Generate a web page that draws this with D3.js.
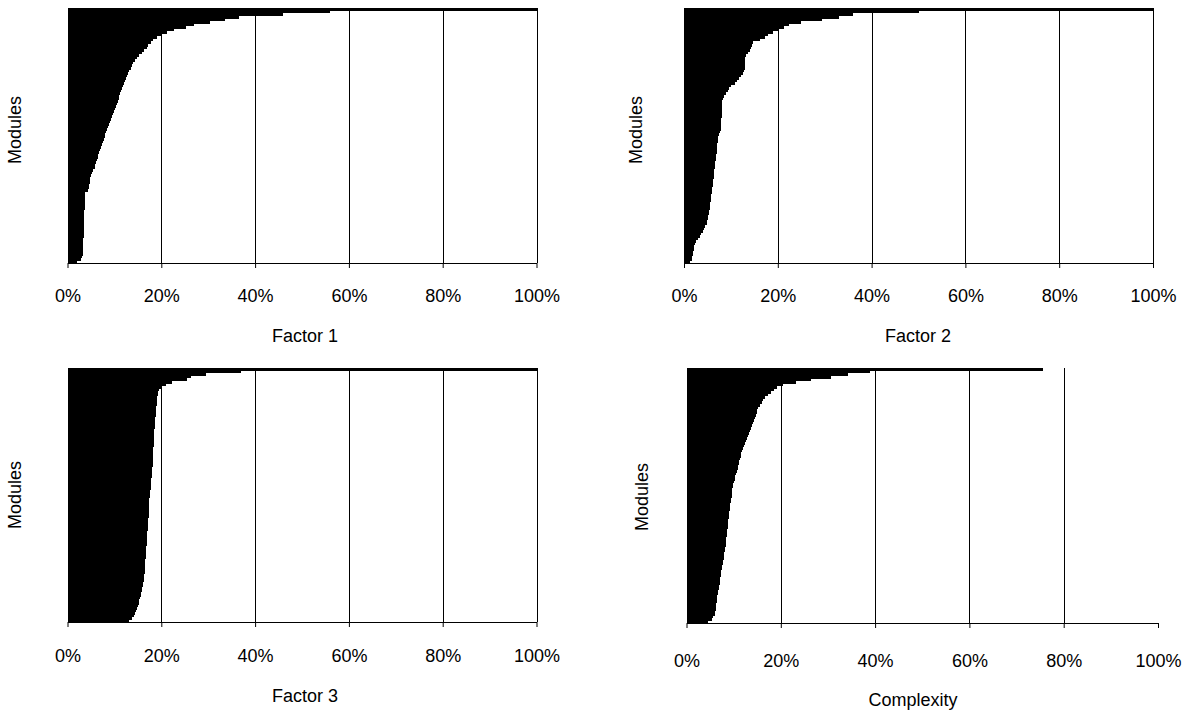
<!DOCTYPE html>
<html>
<head>
<meta charset="utf-8">
<script src="https://cdn.jsdelivr.net/npm/d3@7"></script>
<style>
  body { margin: 0; background: #fff; }
  text { font-family: "Liberation Sans", Arial, sans-serif; font-size: 18px; fill: #000; }
</style>
</head>
<body>
<script>
// Define SVG area dimensions
var svgWidth = 1195;
var svgHeight = 713;

// Share of each module (%), sorted, bottom bar first
var factor1 = [2.0, 2.8, 3.1, 3.3, 3.3, 3.3, 3.4, 3.4, 3.4, 3.4,
  3.5, 3.5, 3.5, 3.5, 3.5, 3.5, 3.5, 3.6, 3.6, 3.6,
  3.6, 3.7, 3.7, 3.7, 3.7, 3.8, 3.8, 3.8, 4.3, 4.5,
  4.6, 4.7, 4.8, 4.9, 5.0, 5.2, 5.5, 5.8, 5.9, 6.1,
  6.2, 6.4, 6.6, 6.8, 6.9, 7.1, 7.3, 7.5, 7.7, 7.9,
  8.1, 8.3, 8.5, 8.7, 8.9, 9.1, 9.3, 9.5, 9.7, 9.9,
  10.1, 10.4, 10.6, 10.7, 10.9, 11.0, 11.2, 11.4, 11.6, 11.8,
  12.0, 12.2, 12.4, 12.7, 12.9, 13.2, 13.5, 13.7, 14.0, 14.4,
  14.8, 15.3, 15.9, 16.4, 16.9, 17.2, 17.7, 18.3, 19.1, 20.1,
  21.3, 22.8, 25.2, 27.0, 30.3, 33.5, 36.5, 46, 56, 100];

var factor2 = [1.3, 1.6, 1.8, 1.9, 2.0, 2.1, 2.2, 2.4, 2.6, 3.0,
  3.4, 3.7, 4.0, 4.3, 4.5, 4.8, 5.0, 5.1, 5.2, 5.3,
  5.4, 5.5, 5.5, 5.6, 5.7, 5.8, 5.8, 5.9, 6.0, 6.0,
  6.1, 6.1, 6.2, 6.3, 6.4, 6.4, 6.5, 6.6, 6.6, 6.7,
  6.8, 6.8, 6.9, 7.0, 7.0, 7.1, 7.1, 7.2, 7.2, 7.3,
  7.5, 7.7, 7.8, 7.8, 7.9, 7.9, 7.9, 8.0, 8.0, 8.0,
  8.1, 8.1, 8.1, 8.2, 8.3, 8.6, 8.9, 9.3, 9.7, 10.1,
  10.8, 11.4, 11.7, 12.1, 12.5, 12.8, 12.9, 12.9, 12.9, 13.0,
  13.0, 13.3, 13.7, 14.0, 14.2, 14.5, 14.8, 16.2, 17.3, 18.0,
  18.9, 20.2, 21.3, 22.4, 25.0, 29.5, 33.0, 36.0, 50, 100];

var factor3 = [13.2, 13.8, 14.1, 14.4, 14.7, 14.9, 15.1, 15.25, 15.35, 15.5,
  15.6, 15.7, 15.85, 15.95, 16.05, 16.15, 16.25, 16.3, 16.4, 16.45,
  16.5, 16.5, 16.55, 16.6, 16.6, 16.65, 16.7, 16.75, 16.8, 16.8,
  16.85, 16.9, 16.95, 17.0, 17.0, 17.05, 17.1, 17.1, 17.15, 17.2,
  17.25, 17.3, 17.3, 17.35, 17.35, 17.4, 17.4, 17.4, 17.45, 17.5,
  17.6, 17.65, 17.7, 17.75, 17.8, 17.85, 17.9, 17.95, 18.0, 18.05,
  18.1, 18.15, 18.2, 18.2, 18.25, 18.25, 18.3, 18.3, 18.3, 18.35,
  18.4, 18.4, 18.45, 18.5, 18.55, 18.55, 18.6, 18.65, 18.7, 18.7,
  18.75, 18.8, 18.85, 18.9, 18.9, 19.0, 19.05, 19.1, 19.15, 19.2,
  19.4, 19.5, 19.9, 20.9, 22.3, 25.5, 26.3, 29.5, 37, 100];

var complexity = [4.6, 5.4, 5.7, 5.95, 6.05, 6.2, 6.25, 6.35, 6.4, 6.5,
  6.55, 6.65, 6.7, 6.8, 6.9, 7.0, 7.1, 7.2, 7.25, 7.3,
  7.4, 7.5, 7.6, 7.65, 7.75, 7.85, 7.95, 8.0, 8.1, 8.2,
  8.3, 8.35, 8.4, 8.45, 8.5, 8.55, 8.6, 8.7, 8.8, 8.85,
  8.9, 8.95, 9.0, 9.1, 9.15, 9.25, 9.3, 9.4, 9.45, 9.55,
  9.6, 9.7, 9.75, 9.85, 9.95, 10.1, 10.2, 10.3, 10.45, 10.65,
  10.85, 11.0, 11.1, 11.2, 11.35, 11.5, 11.65, 11.8, 12.0, 12.2,
  12.4, 12.65, 12.85, 13.05, 13.25, 13.5, 13.7, 13.9, 14.1, 14.3,
  14.45, 14.65, 14.85, 15.05, 15.25, 15.6, 16.0, 16.3, 16.7, 17.3,
  17.9, 18.5, 19.3, 20.5, 23.3, 26.3, 30.7, 34.2, 39, 75.6];

// Tick values and labels
var tickValues = [0, 20, 40, 60, 80, 100];
var axisTitles = ["Factor 1", "Factor 2", "Factor 3", "Complexity"];
var yTitle = "Modules";

// Panel layout (pixels)
var panels = [
  { data: factor1, title: axisTitles[0], left: 67.5, right: 536.5, top: 8, bottom: 263,
    tickDy: 33, titleDy: 73, titleX: 305, labelX: 15, labelY: 130, grid: [20, 40, 60, 80, 100] },
  { data: factor2, title: axisTitles[1], left: 684, right: 1153, top: 8, bottom: 263,
    tickDy: 33, titleDy: 73, titleX: 918, labelX: 636, labelY: 130, grid: [20, 40, 60, 80, 100] },
  { data: factor3, title: axisTitles[2], left: 67.5, right: 536.5, top: 368, bottom: 622,
    tickDy: 34, titleDy: 74, titleX: 305, labelX: 15, labelY: 495, grid: [20, 40, 60, 80, 100] },
  { data: complexity, title: axisTitles[3], left: 686.5, right: 1158, top: 368, bottom: 623,
    tickDy: 38, titleDy: 77, titleX: 913, labelX: 642, labelY: 497, grid: [20, 40, 60, 80] }
];

var svg = d3.select("body")
  .append("svg")
  .attr("width", svgWidth)
  .attr("height", svgHeight);

panels.forEach(function(p) {
  var g = svg.append("g");

  var x = d3.scaleLinear()
    .domain([0, 100])
    .range([p.left, p.right]);

  // index 0 sits at the bottom
  var y = d3.scaleBand()
    .domain(d3.range(p.data.length))
    .range([p.bottom, p.top])
    .paddingInner(0);

  // gridlines
  g.selectAll(".grid")
    .data(p.grid)
    .enter()
    .append("line")
    .attr("x1", d => Math.round(x(d)) + 0.5)
    .attr("x2", d => Math.round(x(d)) + 0.5)
    .attr("y1", p.top)
    .attr("y2", p.bottom)
    .attr("stroke", "#000")
    .attr("stroke-width", 1);

  // bars
  g.selectAll(".bar")
    .data(p.data)
    .enter()
    .append("rect")
    .attr("x", x(0))
    .attr("y", (d, i) => y(i))
    .attr("width", d => x(d) - x(0))
    .attr("height", y.bandwidth() + 0.3)
    .attr("fill", "#000")
    .attr("shape-rendering", "crispEdges");

  // x axis
  var bottomAxis = d3.axisBottom(x)
    .tickValues(tickValues)
    .tickFormat(d => d + "%")
    .tickSize(5)
    .tickSizeOuter(0);

  var ax = g.append("g")
    .attr("transform", `translate(0, ${p.bottom})`)
    .call(bottomAxis);
  ax.select(".domain").attr("stroke", "#000");
  ax.selectAll(".tick line").attr("stroke", "#000");
  ax.selectAll(".tick text")
    .attr("y", p.tickDy)
    .attr("dy", "0.35em")
    .attr("font-family", null)
    .attr("font-size", null);
  ax.attr("font-family", null).attr("font-size", null);

  // axis title
  g.append("text")
    .attr("x", p.titleX)
    .attr("y", p.bottom + p.titleDy)
    .attr("dy", "0.35em")
    .attr("text-anchor", "middle")
    .text(p.title);

  // y label
  g.append("text")
    .attr("transform", `translate(${p.labelX}, ${p.labelY}) rotate(-90)`)
    .attr("dy", "0.35em")
    .attr("text-anchor", "middle")
    .text(yTitle);
});
</script>
</body>
</html>
